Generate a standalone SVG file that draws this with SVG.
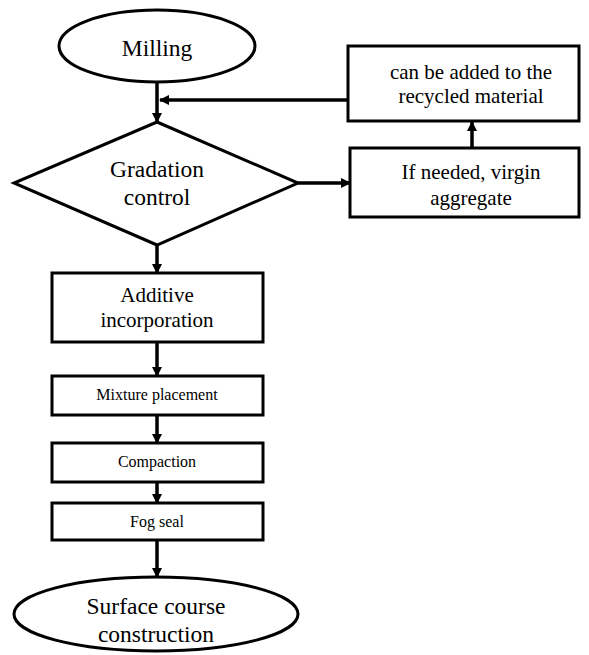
<svg xmlns="http://www.w3.org/2000/svg" width="589" height="655" viewBox="0 0 589 655">
<style>
.s{fill:#fff;stroke:#000;stroke-width:3}
.c{fill:none;stroke:#000;stroke-width:3.5}
text{font-family:'Liberation Serif','Times New Roman',Times,serif;fill:#000;text-anchor:middle}
.l{font-size:23.5px}
.m{font-size:21px}
.sm{font-size:16px}
</style>
<defs>
<marker id="ah" viewBox="0 0 10 10" refX="9" refY="5" markerWidth="3" markerHeight="3" orient="auto" markerUnits="strokeWidth">
<path d="M0,0 L10,5 L0,10 z" fill="#000"/>
</marker>
</defs>
<rect width="589" height="655" fill="#fff"/>
<g id="connectors">
<line class="c" x1="157" y1="82" x2="157" y2="122" marker-end="url(#ah)"/>
<line class="c" x1="348" y1="100" x2="160" y2="100" marker-end="url(#ah)"/>
<line class="c" x1="298" y1="183" x2="350" y2="183" marker-end="url(#ah)"/>
<line class="c" x1="472" y1="148" x2="472" y2="122" marker-end="url(#ah)"/>
<line class="c" x1="157" y1="245" x2="157" y2="273" marker-end="url(#ah)"/>
<line class="c" x1="157" y1="342" x2="157" y2="376" marker-end="url(#ah)"/>
<line class="c" x1="157" y1="415" x2="157" y2="443" marker-end="url(#ah)"/>
<line class="c" x1="157" y1="482" x2="157" y2="503" marker-end="url(#ah)"/>
<line class="c" x1="157" y1="540" x2="157" y2="577" marker-end="url(#ah)"/>
</g>
<g id="milling">
<ellipse class="s" cx="157" cy="46" rx="98" ry="36"/>
<text class="l" x="157" y="56" font-family="Liberation Serif, serif">Milling</text>
</g>
<g id="gradation">
<polygon class="s" points="157,122 298,183 157,245 14,183"/>
<text class="l" x="157" y="177" font-family="Liberation Serif, serif">Gradation</text>
<text class="l" x="157" y="205" font-family="Liberation Serif, serif">control</text>
</g>
<g id="recycled">
<rect class="s" x="348" y="46" width="231" height="75"/>
<text class="m" x="471" y="79" font-family="Liberation Serif, serif">can be added to the</text>
<text class="m" x="471" y="103" font-family="Liberation Serif, serif">recycled material</text>
</g>
<g id="virgin">
<rect class="s" x="350" y="148" width="229" height="69"/>
<text class="m" x="471" y="179" font-family="Liberation Serif, serif">If needed, virgin</text>
<text class="m" x="471" y="205" font-family="Liberation Serif, serif">aggregate</text>
</g>
<g id="additive">
<rect class="s" x="52" y="273" width="211" height="69"/>
<text class="m" x="157" y="302" font-family="Liberation Serif, serif">Additive</text>
<text class="m" x="157" y="327" font-family="Liberation Serif, serif">incorporation</text>
</g>
<g id="mixture">
<rect class="s" x="52" y="376" width="211" height="39"/>
<text class="sm" x="157" y="400" font-family="Liberation Serif, serif">Mixture placement</text>
</g>
<g id="compaction">
<rect class="s" x="52" y="443" width="211" height="39"/>
<text class="sm" x="157" y="467" font-family="Liberation Serif, serif">Compaction</text>
</g>
<g id="fogseal">
<rect class="s" x="52" y="503" width="211" height="37"/>
<text class="sm" x="157" y="527" font-family="Liberation Serif, serif">Fog seal</text>
</g>
<g id="surface">
<ellipse class="s" cx="156" cy="614" rx="142" ry="37"/>
<text class="l" x="156" y="614" font-family="Liberation Serif, serif">Surface course</text>
<text class="l" x="156" y="642" font-family="Liberation Serif, serif">construction</text>
</g>
</svg>
